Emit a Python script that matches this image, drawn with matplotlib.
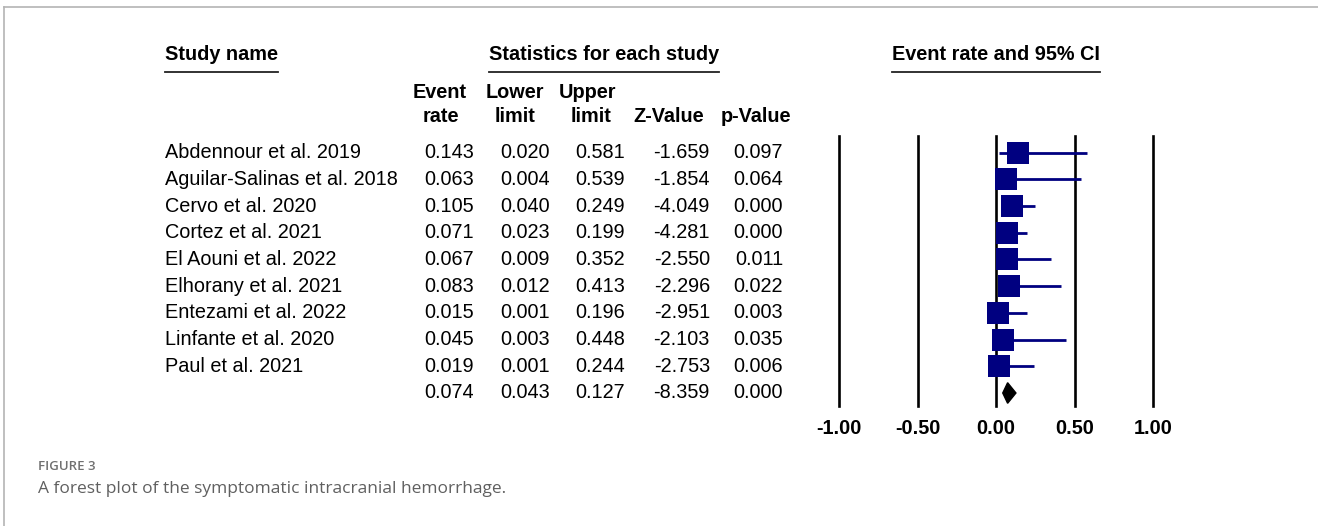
import numpy as np
import matplotlib.pyplot as plt
from matplotlib.transforms import blended_transform_factory, IdentityTransform
from matplotlib.patches import Polygon
from matplotlib.lines import Line2D

plt.rcParams['font.family'] = ['Liberation Sans', 'DejaVu Sans']

# data
studies = ["Abdennour et al. 2019", "Aguilar-Salinas et al. 2018", "Cervo et al. 2020",
           "Cortez et al. 2021", "El Aouni et al. 2022", "Elhorany et al. 2021",
           "Entezami et al. 2022", "Linfante et al. 2020", "Paul et al. 2021"]
event_rate = [0.143, 0.063, 0.105, 0.071, 0.067, 0.083, 0.015, 0.045, 0.019]
lower_limit = [0.020, 0.004, 0.040, 0.023, 0.009, 0.012, 0.001, 0.003, 0.001]
upper_limit = [0.581, 0.539, 0.249, 0.199, 0.352, 0.413, 0.196, 0.448, 0.244]
z_value = [-1.659, -1.854, -4.049, -4.281, -2.550, -2.296, -2.951, -2.103, -2.753]
p_value = [0.097, 0.064, 0.000, 0.000, 0.011, 0.022, 0.003, 0.035, 0.006]

pooled_rate = 0.074
pooled_lower = 0.043
pooled_upper = 0.127
pooled_z = -8.359
pooled_p = 0.000

tick_values = [-1.0, -0.5, 0.0, 0.5, 1.0]
tick_labels = ["-1.00", "-0.50", "0.00", "0.50", "1.00"]

W, H = 1318, 526
fig = plt.figure(figsize=(W / 100, H / 100), dpi=100)

# forest panel: x from -1 (px 839) to 1 (px 1153), lines from px 136 to 406
ax = fig.add_axes([839 / W, (H - 406) / H, 314 / W, 270 / H])
n = len(studies)
ax.set_xlim(-1, 1)
ax.set_ylim(n + 0.487, -0.625)
for t in tick_values:
    ax.axvline(t, color="black", lw=1.9, clip_on=False)

navy = "#000080"
rows = np.arange(n)
ax.hlines(rows, lower_limit, upper_limit, color=navy, lw=2.0)
ax.plot(event_rate, rows, "s", color=navy, markersize=15.5, markeredgewidth=0)

hh = 0.385
diamond = Polygon([[pooled_lower, n], [pooled_rate, n - hh], [pooled_upper, n], [pooled_rate, n + hh]],
                  closed=True, facecolor="black", edgecolor="black")
ax.add_patch(diamond)

for s in ax.spines.values():
    s.set_visible(False)
ax.set_yticks([])
ax.set_xticks(tick_values)
ax.set_xticklabels(tick_labels, fontsize=14.3, fontweight="bold")
ax.tick_params(axis="x", length=0, pad=9)

# table on the left
tr = blended_transform_factory(fig.transFigure, ax.transData)
fs = 14.3
col_right = [474, 550, 625, 710, 783]
for i in range(n):
    fig.text(165 / W, i, studies[i], transform=tr, fontsize=fs, va="center")
    vals = [event_rate[i], lower_limit[i], upper_limit[i], z_value[i], p_value[i]]
    for x, v in zip(col_right, vals):
        fig.text(x / W, i, "%.3f" % v, transform=tr, fontsize=fs, va="center", ha="right")

summary = [pooled_rate, pooled_lower, pooled_upper, pooled_z, pooled_p]
for x, v in zip(col_right, summary):
    fig.text(x / W, n, "%.3f" % v, transform=tr, fontsize=fs, va="center", ha="right")

# column headers
def ftext(x, y, s, **kw):
    return fig.text(x / W, 1 - y / H, s, fontsize=fs, fontweight="bold", va="center", **kw)

titles = [ftext(165, 55, "Study name", ha="left"),
          ftext(604, 55, "Statistics for each study", ha="center"),
          ftext(996, 55, "Event rate and 95% CI", ha="center")]
ftext(440, 93, "Event", ha="center")
ftext(441, 116, "rate", ha="center")
ftext(515, 93, "Lower", ha="center")
ftext(515, 116, "limit", ha="center")
ftext(588, 93, "Upper", ha="center")
ftext(591, 116, "limit", ha="center")
ftext(669, 116, "Z-Value", ha="center")
ftext(756, 116, "p-Value", ha="center")

# caption
fig.text(38 / W, 1 - 466 / H, "FIGURE 3", fontsize=9.5, color="#707070", va="center",
         family=["Open Sans", "DejaVu Sans"], fontweight="semibold")
fig.text(38 / W, 1 - 489 / H, "A forest plot of the symptomatic intracranial hemorrhage.",
         fontsize=12.5, color="#606060", va="center", family=["Open Sans", "DejaVu Sans"])

# page frame
fig.add_artist(Line2D([4, W], [H - 7, H - 7], transform=IdentityTransform(), color="#b4b4b4", lw=1.2))
fig.add_artist(Line2D([4, 4], [H - 7, 0], transform=IdentityTransform(), color="#b4b4b4", lw=1.2))

# underline the group titles
fig.canvas.draw()
rend = fig.canvas.get_renderer()
for t in titles:
    bb = t.get_window_extent(rend)
    fig.add_artist(Line2D([bb.x0, bb.x1], [H - 72, H - 72], transform=IdentityTransform(),
                          color="#222222", lw=1.3))

fig.savefig("out.png", dpi=100)
